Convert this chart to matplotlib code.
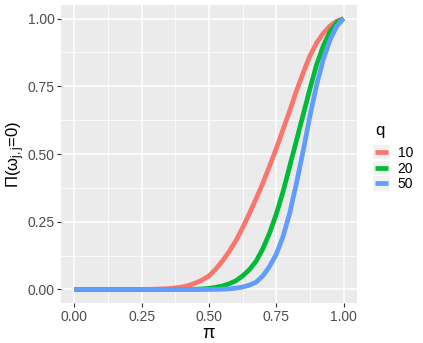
import matplotlib
matplotlib.use("Agg")
import matplotlib.pyplot as plt
from matplotlib.ticker import MultipleLocator
from matplotlib.legend_handler import HandlerLine2D
from matplotlib.patches import Rectangle

# Data
pi_vals = [0.000, 0.100, 0.200, 0.250, 0.300, 0.350, 0.400, 0.425, 0.450, 0.475,
           0.500, 0.525, 0.550, 0.575, 0.600, 0.625, 0.650, 0.675, 0.700, 0.725,
           0.750, 0.775, 0.800, 0.825, 0.850, 0.875, 0.900, 0.925, 0.950, 0.975, 1.000]
q10 = [0.000, 0.000, 0.000, 0.000, 0.001, 0.003, 0.009, 0.015, 0.024, 0.035,
       0.050, 0.075, 0.105, 0.140, 0.180, 0.228, 0.280, 0.335, 0.392, 0.455,
       0.520, 0.590, 0.660, 0.733, 0.800, 0.862, 0.910, 0.946, 0.973, 0.991, 1.000]
q20 = [0.000, 0.000, 0.000, 0.000, 0.000, 0.000, 0.000, 0.000, 0.001, 0.002,
       0.004, 0.008, 0.013, 0.021, 0.032, 0.050, 0.073, 0.104, 0.150, 0.208,
       0.278, 0.360, 0.455, 0.550, 0.645, 0.740, 0.830, 0.900, 0.952, 0.985, 1.000]
q50 = [0.000, 0.000, 0.000, 0.000, 0.000, 0.000, 0.000, 0.000, 0.000, 0.000,
       0.000, 0.000, 0.001, 0.002, 0.005, 0.009, 0.016, 0.027, 0.050, 0.085,
       0.130, 0.195, 0.282, 0.392, 0.512, 0.640, 0.755, 0.850, 0.922, 0.972, 1.000]
series_labels = ["10", "20", "50"]
series_colors = ["#F8766D", "#00BA38", "#619CFF"]
tick_vals = [0.00, 0.25, 0.50, 0.75, 1.00]
tick_labels = ["0.00", "0.25", "0.50", "0.75", "1.00"]

plt.rcParams['font.family'] = ['Liberation Sans', 'DejaVu Sans']
plt.rcParams['mathtext.default'] = 'regular'


class KeyHandler(HandlerLine2D):
    def create_artists(self, legend, orig_handle, xdescent, ydescent,
                       width, height, fontsize, trans):
        arts = super().create_artists(legend, orig_handle, xdescent, ydescent,
                                      width, height, fontsize, trans)
        padx, pady = 1.2, 1.6
        rect = Rectangle((-xdescent - padx, -ydescent - pady),
                         width + 2 * padx, height + 2 * pady,
                         facecolor='#F2F2F2', edgecolor='none', transform=trans)
        return [rect] + list(arts)


fig = plt.figure(figsize=(4.23, 3.43), dpi=100)
ax = fig.add_axes([61/423, 1-303/343, (357-61)/423, (303-5)/343])
ax.set_facecolor("#EBEBEB")
for s in ax.spines.values():
    s.set_visible(False)

ax.set_xlim(-0.05, 1.05)
ax.set_ylim(-0.05, 1.05)
ax.set_xticks(tick_vals)
ax.set_xticklabels(tick_labels)
ax.set_yticks(tick_vals)
ax.set_yticklabels(tick_labels)
ax.xaxis.set_minor_locator(MultipleLocator(0.125))
ax.yaxis.set_minor_locator(MultipleLocator(0.125))
ax.grid(which='major', color='white', linewidth=1.1)
ax.grid(which='minor', color='white', linewidth=0.55)
ax.set_axisbelow(True)
ax.tick_params(which='major', length=2.75, width=0.8, color='#333333',
               labelsize=10, labelcolor='#4D4D4D', pad=2)
ax.tick_params(which='minor', length=0)

for ys, lab, col in zip([q10, q20, q50], series_labels, series_colors):
    ax.plot(pi_vals, ys, color=col, linewidth=3.4, label=lab,
            solid_capstyle='butt', solid_joinstyle='round')

ax.set_xlabel("π", fontsize=13, labelpad=1)
ax.set_ylabel("Π(ω$_{j,j}$=0)", fontsize=12)
ax.yaxis.set_label_coords(-0.115, 0.5)

leg = ax.legend(title="q", loc='center left', bbox_to_anchor=(1.06, 0.49),
                frameon=False, fontsize=10, title_fontsize=12,
                handlelength=0.95, handletextpad=0.7, labelspacing=0.12,
                borderaxespad=0, borderpad=0,
                handler_map={matplotlib.lines.Line2D: KeyHandler()})
leg._legend_box.align = "left"
leg._legend_box.sep = 6
for h in leg.get_lines():
    h.set_linewidth(3.4)

fig.savefig("out.png", dpi=100)
